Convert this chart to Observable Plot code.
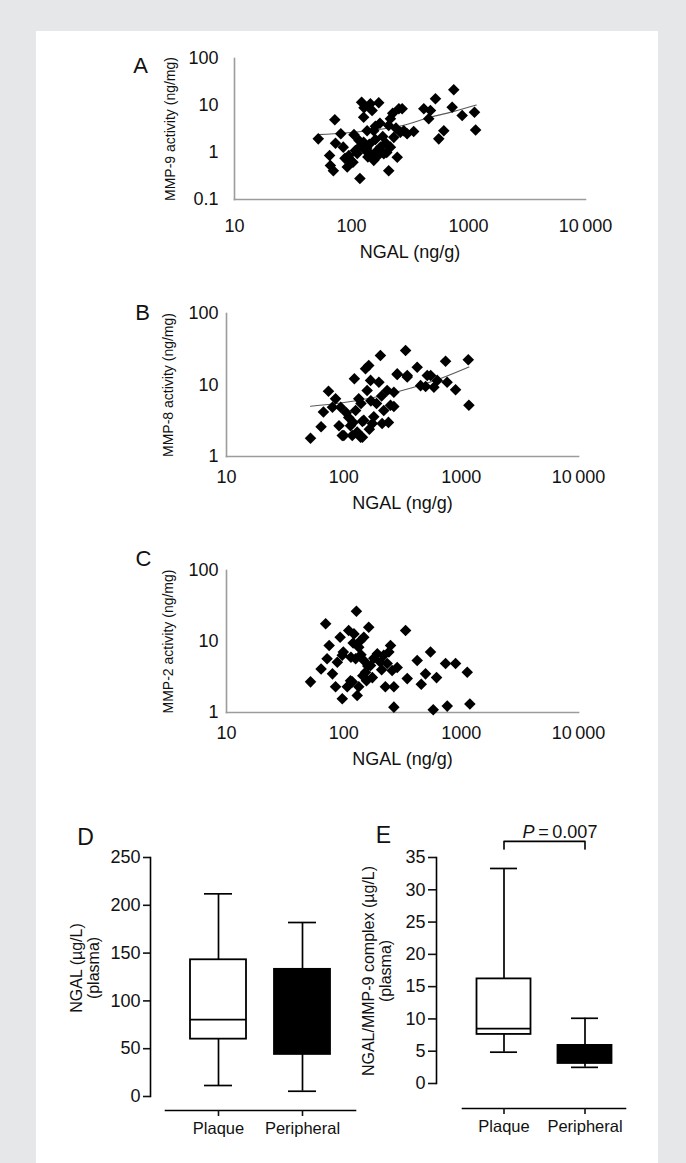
<!DOCTYPE html>
<html><head><meta charset="utf-8">
<script src="https://cdn.jsdelivr.net/npm/d3@7"></script>
<script src="https://cdn.jsdelivr.net/npm/@observablehq/plot@0.6"></script>
<style>
html,body{margin:0;padding:0;background:#e6e7e9;}
#wrap{position:relative;width:686px;height:1163px;background:#e6e7e9;overflow:hidden;font-family:"Liberation Sans",Arial,Helvetica,sans-serif;}
#card{position:absolute;left:36px;top:31px;width:622px;height:1132px;background:#fff;}
.panel{position:absolute;}
.panel svg{background:none;overflow:visible;}
</style></head><body>
<div id="wrap"><div id="card"></div></div>
<script>
// ---------- data ----------
const xTickValues = [10, 100, 1000, 10000];
const xTickLabels = ["10", "100", "1000", "10\u2009000"];
const xAxisLabel = "NGAL (ng/g)";

// Panel A: MMP-9 activity vs NGAL
const ngalA = [52,72,65,66,70,81,73,95,92,98,108,118,122,127,145,150,171,136,155,127,116,132,145,155,166,177,189,208,215,246,215,208,254,271,262,280,340,299,415,473,457,522,615,557,725,748,883,1125,1150,85,88,103,112,120,138,142,160,168,185,196,230,240,225,128,160,105,200,135,175];
const mmp9  = [1.95,5.0,0.86,0.53,0.41,2.5,1.58,0.86,0.49,0.68,1.1,0.28,11.7,5.6,10.9,7.8,11.4,2.9,2.9,1.66,1.8,1.1,0.94,0.68,1.1,1.3,0.94,0.41,1.3,0.79,5.2,3.75,8.5,8.5,2.7,2.9,2.8,2.5,8.5,7.8,5.2,13.9,2.9,1.95,9.2,21.6,6.1,7.2,3.0,1.3,0.75,0.62,0.95,1.4,0.8,1.5,1.9,0.85,2.2,1.6,2.1,3.3,6.8,9.0,3.6,2.4,1.0,1.25,4.2];
const trendAx = [52,140,280,470,750,1165];
const trendAy = [2.4,2.9,3.8,5.6,7.5,10.2];
const yTicksA = [0.1,1,10,100];
const yTickLabelsA = ["0.1","1","10","100"];

// Panel B: MMP-8 activity vs NGAL
const ngalB = [52,64,67,74,80,85,91,94,97,110,114,118,123,126,134,139,148,153,158,163,175,169,199,205,212,219,234,250,267,285,336,347,422,451,514,586,625,736,896,1150,1164,759,550,498,347,285,267,144,144,100,130,165,180,190,140,120,105,170,240,210];
const mmp8  = [1.8,2.6,4.2,8.2,4.9,6.4,2.7,4.9,1.97,3.5,2.7,1.97,12.2,4.4,6.4,1.86,3.2,16.9,8.4,18.7,2.9,11.6,10.9,25.9,2.9,4.4,8.4,5.2,7.9,14.3,30.4,13.6,17.7,9.8,13.6,9.3,11.6,21.5,8.6,22.5,5.2,10.9,13.6,9.5,12.9,14,5.0,3.1,1.86,1.97,2.2,2.4,3.6,5.5,5.5,3.0,4.1,6.0,3.0,7.0];
const trendBx = [52,94,180,395,667,1164];
const trendBy = [5.05,5.6,6.7,9.3,12.3,17.8];
const yTicksBC = [1,10,100];
const yTickLabelsBC = ["1","10","100"];

// Panel C: MMP-2 activity vs NGAL
const ngalC = [52,64,70,75,72,80,85,88,93,97,97,99,107,110,114,118,122,126,128,130,134,134,139,148,148,153,156,163,169,175,193,205,219,226,234,242,250,258,267,267,285,336,347,422,457,497,548,578,617,736,761,896,1127,1186,115,140,160,180,120,145,210];
const mmp2  = [2.7,4.1,17.8,8.8,5.7,3.5,2.3,5.1,11.5,6.4,1.56,7.1,2.3,14.3,2.8,2.7,12.8,5.7,26.7,1.74,2.3,8.3,10.3,11.5,5.4,3.7,2.8,15.9,4.6,3.1,6.7,5.1,6.4,2.3,4.9,7.1,8.8,3.9,2.3,1.19,4.3,14.3,3.0,5.4,2.5,3.5,7.1,1.09,3.1,4.9,1.23,4.9,3.7,1.32,6.0,6.5,4.5,5.8,9.5,3.3,4.0];

// Panels D & E: box plots (plasma)
const groups = ["Plaque", "Peripheral"];
const boxFills = ["white", "black"];
const ngalPlasmaLo  = [11.5, 5.5];
const ngalPlasmaQ1  = [60, 44];
const ngalPlasmaMed = [80.5, 90];
const ngalPlasmaQ3  = [143, 133];
const ngalPlasmaHi  = [212, 182];
const yTicksD = [0, 50, 100, 150, 200, 250];

const complexLo  = [4.85, 2.5];
const complexQ1  = [7.6, 3.1];
const complexMed = [8.5, 4.5];
const complexQ3  = [16.2, 5.9];
const complexHi  = [33.3, 10.1];
const yTicksE = [0, 5, 10, 15, 20, 25, 30, 35];
const bracketLevels = [36.3, 37.5];
const pText = "P\u2009=\u20090.007";

// ---------- helpers ----------
const FONT = "Liberation Sans, Arial, Helvetica, sans-serif";
const AXIS_GRAY = "#9c9c9c";
const INK = "#000";
const wrap = document.getElementById("wrap");
function place(svg, left, top) {
  const d = document.createElement("div");
  d.className = "panel";
  d.style.left = left + "px"; d.style.top = top + "px";
  d.appendChild(svg);
  wrap.appendChild(d);
}
const fmtX = d => xTickLabels[xTickValues.indexOf(d)];
const centered = {textAnchor: "middle", lineAnchor: "middle"};

function scatterPanel(c) {
  const pts = c.xs.map((x, i) => ({x, y: c.ys[i]}));
  const marks = [
    Plot.frame({anchor: "left", stroke: AXIS_GRAY, strokeWidth: 1.6}),
    Plot.frame({anchor: "bottom", stroke: AXIS_GRAY, strokeWidth: 1.6}),
    Plot.axisX({ticks: xTickValues, tickFormat: fmtX, tickSize: 0, tickPadding: c.xPad, fontSize: 18, label: null}),
    Plot.axisY({ticks: c.yTicks, tickFormat: d => c.yLabels[c.yTicks.indexOf(d)], tickSize: 0, tickPadding: c.yPad, fontSize: 18, label: null})
  ];
  if (c.tx) {
    const tr = c.tx.map((x, i) => ({x, y: c.ty[i]}));
    marks.push(Plot.line(tr, {x: "x", y: "y", stroke: "#5a5a5a", strokeWidth: 1.1, curve: "monotone-x"}));
  }
  marks.push(
    Plot.dot(pts, {x: "x", y: "y", symbol: "diamond2", r: 5.2, fill: INK}),
    Plot.text([c.letter], {text: d => d, frameAnchor: "top-left", dx: c.letterDx, dy: c.letterDy, fontSize: 22, ...centered}),
    Plot.text([c.yTitle], {text: d => d, frameAnchor: "left", rotate: -90, dx: c.yTitleDx, fontSize: 14, ...centered}),
    Plot.text([xAxisLabel], {text: d => d, frameAnchor: "bottom", dy: c.xTitleDy, fontSize: 18, ...centered})
  );
  return Plot.plot({
    width: 686, height: 250,
    marginLeft: c.mL, marginRight: c.mR, marginTop: c.mT, marginBottom: c.mB,
    style: {fontFamily: FONT, background: "none", color: "#111", overflow: "visible"},
    x: {type: "log", domain: [10, 10000]},
    y: {type: "log", domain: c.yDomain},
    marks
  });
}

place(scatterPanel({
  xs: ngalA, ys: mmp9, tx: trendAx, ty: trendAy, yDomain: [0.1, 100], yTicks: yTicksA, yLabels: yTickLabelsA,
  letter: "A", yTitle: "MMP-9 activity (ng/mg)",
  mL: 234, mR: 101, mT: 28, mB: 81, xPad: 20, yPad: 16,
  letterDx: -94, letterDy: 7, yTitleDx: -64, xTitleDy: 53
}), 0, 30);

place(scatterPanel({
  xs: ngalB, ys: mmp8, tx: trendBx, ty: trendBy, yDomain: [1, 100], yTicks: yTicksBC, yLabels: yTickLabelsBC,
  letter: "B", yTitle: "MMP-8 activity (ng/mg)",
  mL: 226, mR: 108, mT: 28, mB: 79, xPad: 14, yPad: 8,
  letterDx: -84, letterDy: -1, yTitleDx: -58, xTitleDy: 47
}), 0, 285);

place(scatterPanel({
  xs: ngalC, ys: mmp2, yDomain: [1, 100], yTicks: yTicksBC, yLabels: yTickLabelsBC,
  letter: "C", yTitle: "MMP-2 activity (ng/mg)",
  mL: 226, mR: 108, mT: 30, mB: 78, xPad: 14, yPad: 8,
  letterDx: -83, letterDy: -12, yTitleDx: -58, xTitleDy: 47
}), 0, 540);

function boxPanel(c) {
  const rows = groups.map((g, i) => ({g, lo: c.lo[i], q1: c.q1[i], med: c.med[i], q3: c.q3[i], hi: c.hi[i], fill: boxFills[i]}));
  const marks = [
    Plot.frame({anchor: "left", stroke: INK, strokeWidth: 1.6, insetBottom: c.yInsetBottom}),
    Plot.frame({anchor: "bottom", stroke: INK, strokeWidth: 1.6, insetLeft: c.xInsetLeft}),
    Plot.axisY({ticks: c.yTicks, tickSize: c.tickLen, tickPadding: 3, fontSize: 18, label: null, strokeWidth: 1.6}),
    Plot.axisX({tickSize: 6, tickPadding: 6, fontSize: 16.5, label: null, strokeWidth: 1.6}),
    Plot.ruleX(rows, {x: "g", y1: "lo", y2: "q1", stroke: INK, strokeWidth: 1.7}),
    Plot.ruleX(rows, {x: "g", y1: "q3", y2: "hi", stroke: INK, strokeWidth: 1.7}),
    Plot.tickY(rows, {x: "g", y: "lo", insetLeft: c.capInset, insetRight: c.capInset, stroke: INK, strokeWidth: 1.7}),
    Plot.tickY(rows, {x: "g", y: "hi", insetLeft: c.capInset, insetRight: c.capInset, stroke: INK, strokeWidth: 1.7}),
    Plot.barY(rows, {x: "g", y1: "q1", y2: "q3", fill: "fill", stroke: INK, strokeWidth: 1.8, insetLeft: c.boxInset, insetRight: c.boxInset}),
    Plot.tickY(rows, {x: "g", y: "med", insetLeft: c.boxInset, insetRight: c.boxInset, stroke: INK, strokeWidth: 1.7}),
    Plot.text([c.letter], {text: d => d, frameAnchor: "top-left", dx: c.letterDx, dy: c.letterDy, fontSize: 23, ...centered}),
    Plot.text([c.yTitle], {text: d => d, frameAnchor: "left", rotate: -90, dx: c.yTitleDx, dy: c.yTitleDy, fontSize: 16, lineHeight: 1.05, ...centered})
  ];
  if (c.bracket) {
    const br = [{g: groups[0], v: c.bracket[0]}, {g: groups[0], v: c.bracket[1]}, {g: groups[1], v: c.bracket[1]}, {g: groups[1], v: c.bracket[0]}];
    marks.push(Plot.line(br, {x: "g", y: "v", stroke: INK, strokeWidth: 1.6}));
    marks.push(Plot.text([c.pText], {text: d => d, frameAnchor: "top", dx: c.pDx, dy: c.pDy, fontSize: 18, ...centered}));
  }
  const svg = Plot.plot({
    width: c.width, height: 373,
    marginLeft: c.mL, marginRight: c.mR, marginTop: 67, marginBottom: c.mB,
    style: {fontFamily: FONT, background: "none", color: "#111", overflow: "visible"},
    x: {type: "band", domain: groups, paddingInner: 0, paddingOuter: c.padOuter, insetLeft: c.xInsetLeft},
    y: {domain: c.yDomain, insetBottom: c.yInsetBottom},
    marks
  });
  if (c.bracket) {
    d3.select(svg).selectAll("text").filter(function() { return this.textContent === c.pText; }).each(function() {
      const t = d3.select(this);
      t.text(null);
      t.append("tspan").attr("font-style", "italic").text("P");
      t.append("tspan").text("\u2009=\u20090.007");
    });
  }
  return svg;
}

place(boxPanel({
  lo: ngalPlasmaLo, q1: ngalPlasmaQ1, med: ngalPlasmaMed, q3: ngalPlasmaQ3, hi: ngalPlasmaHi,
  yDomain: [0, 250], yTicks: yTicksD, letter: "D", yTitle: "NGAL (\u00b5g/L)\n(plasma)",
  width: 330, mL: 112, mR: 13, mB: 53, xInsetLeft: 15, yInsetBottom: 14, padOuter: 0.13,
  tickLen: 7, capInset: 28, boxInset: 14,
  letterDx: -65, letterDy: -20, yTitleDx: -65, yTitleDy: -16
}), 38, 790);

place(boxPanel({
  lo: complexLo, q1: complexQ1, med: complexMed, q3: complexQ3, hi: complexHi,
  yDomain: [0, 35], yTicks: yTicksE, letter: "E", yTitle: "NGAL/MMP-9 complex (\u00b5g/L)\n(plasma)",
  width: 318, mL: 96, mR: 33, mB: 55, xInsetLeft: 26, yInsetBottom: 25, padOuter: 0,
  tickLen: 8, capInset: 27, boxInset: 13.5,
  letterDx: -53, letterDy: -22, yTitleDx: -59, yTitleDy: -12,
  bracket: bracketLevels, pText: pText, pDx: 29, pDy: -25
}), 340, 790);
</script>
</body></html>
